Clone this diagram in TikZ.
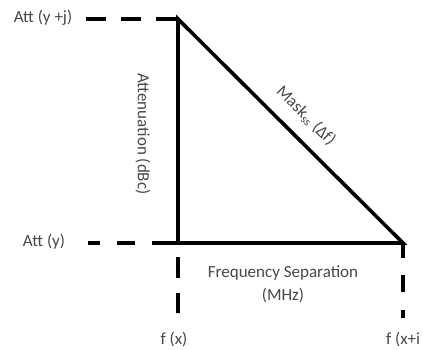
\documentclass[tikz,border=0pt]{standalone}
\usepackage{fontspec}
\setmainfont{Carlito}
\begin{document}
\begin{tikzpicture}[x=1pt,y=-1pt,
  solidline/.style={line width=3.6pt,line cap=butt,line join=miter},
  dashline/.style={line width=3.6pt,dash pattern=on 20pt off 15pt},
  lbl/.style={text=black!72,font=\fontsize{17}{20}\selectfont,inner sep=0pt}]
\useasboundingbox (0,0) rectangle (423,349);
\coordinate (tl) at (178,19);
\coordinate (bl) at (178,243);
\coordinate (br) at (403,243);
\coordinate (tdash) at (86,19);
\coordinate (bdash) at (88,243);
\coordinate (ldash) at (178,313);
\coordinate (rdash) at (403,318);
% triangle
\draw[solidline] (tl) -- (bl) -- (br) -- cycle;
% dashed guides
\draw[dashline,dash phase=0pt] (tdash) -- (tl);
\draw[dashline,dash pattern=on 12pt off 17pt on 18pt off 17pt on 26pt] (bdash) -- (bl);
\draw[dashline,dash pattern=on 0pt off 14pt on 21pt off 15pt on 20pt] (bl) -- (ldash);
\draw[dashline,dash pattern=on 15pt off 17pt on 17pt off 18pt on 8pt] (br) -- (rdash);
% labels
\node[lbl] (atttop) at (43,18) {Att (y +j)};
\node[lbl] (attbot) at (44,242) {Att (y)};
\node[lbl] (fsep) at (283,273) {Frequency Separation};
\node[lbl] (mhz) at (283,295) {(MHz)};
\node[lbl,anchor=base] (fx) at (174,344) {f (x)};
\node[lbl,anchor=base west] (fxi) at (386,344) {f (x+i};
\node[lbl,rotate=-90] (atten) at (143,134) {Attenuation (dBc)};
\node[lbl,rotate=-45] (mask) at (306,116) {Mask\textsubscript{ss} (Δf)};
\end{tikzpicture}
\end{document}
